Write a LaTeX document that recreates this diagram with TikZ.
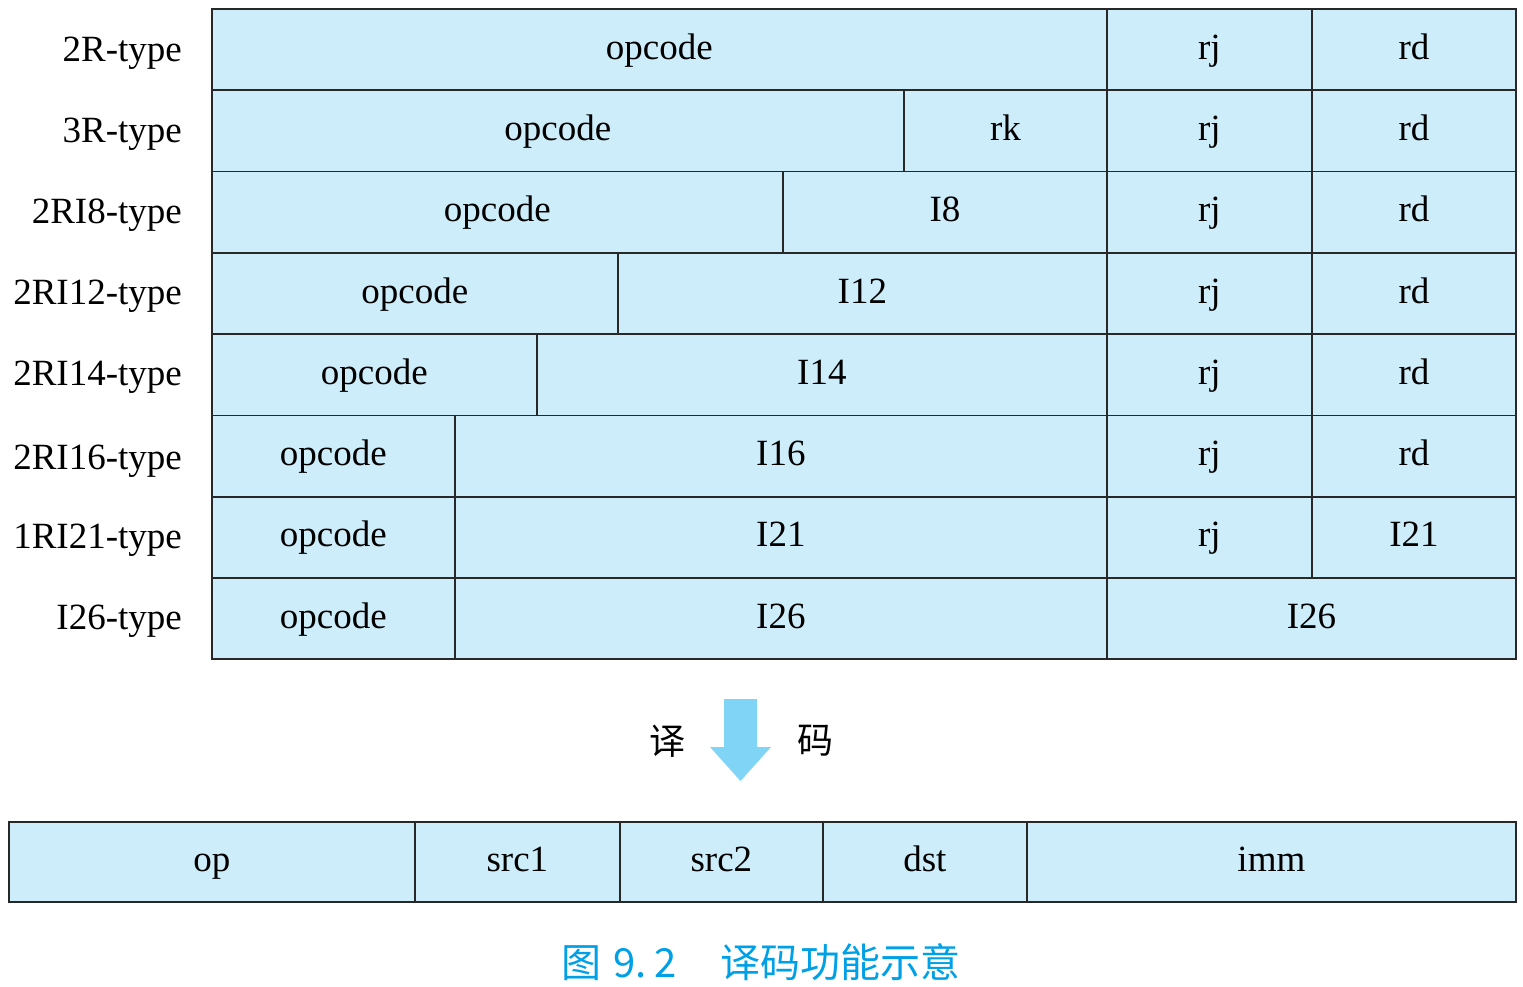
\documentclass[tikz,border=0pt]{standalone}
\usepackage{fontspec}
\setmainfont{Liberation Serif}
\newfontfamily\cjk{Noto Sans CJK SC}
\definecolor{cellc}{RGB}{204,237,249}
\definecolor{linec}{RGB}{40,40,40}
\definecolor{arrc}{RGB}{128,212,246}
\definecolor{capc}{RGB}{0,160,230}
\tikzset{
  cell/.style={draw=linec, fill=cellc, line width=1.8pt, anchor=north west, inner sep=0pt, font=\fontsize{37}{42}\selectfont, text height=26.6pt, text depth=7.4pt},
  lbl/.style={anchor=east, inner sep=0pt, font=\fontsize{37}{42}\selectfont, text height=26.6pt, text depth=7.4pt},
}
\newcommand\fld[6]{\node[cell, minimum width={(#3-#2)*1pt}, minimum height={(#5-#4)*1pt}] (#1) at (#2,#4) {#6};}
\begin{document}
\begin{tikzpicture}[x=1pt,y=-1pt]
\useasboundingbox (0,0) rectangle (1523,986);
% row boundaries
\def\ya{8}\def\yb{89.3}\def\yc{170.6}\def\yd{251.9}\def\ye{333.2}\def\yf{414.5}\def\yg{495.8}\def\yh{577.1}\def\yi{658.4}
% row 1 2R
\fld{a1}{211}{1106}{\ya}{\yb}{opcode}
\fld{a2}{1106}{1311}{\ya}{\yb}{rj}
\fld{a3}{1311}{1515}{\ya}{\yb}{rd}
% row 2 3R
\fld{b1}{211}{903}{\yb}{\yc}{opcode}
\fld{b2}{903}{1106}{\yb}{\yc}{rk}
\fld{b3}{1106}{1311}{\yb}{\yc}{rj}
\fld{b4}{1311}{1515}{\yb}{\yc}{rd}
% row 3 2RI8
\fld{c1}{211}{782}{\yc}{\yd}{opcode}
\fld{c2}{782}{1106}{\yc}{\yd}{I8}
\fld{c3}{1106}{1311}{\yc}{\yd}{rj}
\fld{c4}{1311}{1515}{\yc}{\yd}{rd}
% row 4 2RI12
\fld{d1}{211}{617}{\yd}{\ye}{opcode}
\fld{d2}{617}{1106}{\yd}{\ye}{I12}
\fld{d3}{1106}{1311}{\yd}{\ye}{rj}
\fld{d4}{1311}{1515}{\yd}{\ye}{rd}
% row 5 2RI14
\fld{e1}{211}{536}{\ye}{\yf}{opcode}
\fld{e2}{536}{1106}{\ye}{\yf}{I14}
\fld{e3}{1106}{1311}{\ye}{\yf}{rj}
\fld{e4}{1311}{1515}{\ye}{\yf}{rd}
% row 6 2RI16
\fld{f1}{211}{454}{\yf}{\yg}{opcode}
\fld{f2}{454}{1106}{\yf}{\yg}{I16}
\fld{f3}{1106}{1311}{\yf}{\yg}{rj}
\fld{f4}{1311}{1515}{\yf}{\yg}{rd}
% row 7 1RI21
\fld{g1}{211}{454}{\yg}{\yh}{opcode}
\fld{g2}{454}{1106}{\yg}{\yh}{I21}
\fld{g3}{1106}{1311}{\yg}{\yh}{rj}
\fld{g4}{1311}{1515}{\yg}{\yh}{I21}
% row 8 I26
\fld{h1}{211}{454}{\yh}{\yi}{opcode}
\fld{h2}{454}{1106}{\yh}{\yi}{I26}
\fld{h3}{1106}{1515}{\yh}{\yi}{I26}
% labels
\node[lbl] (la) at (182,52) {2R-type};
\node[lbl] (lb) at (182,133) {3R-type};
\node[lbl] (lc) at (182,214) {2RI8-type};
\node[lbl] (ld) at (182,295) {2RI12-type};
\node[lbl] (le) at (182,376) {2RI14-type};
\node[lbl] (lf) at (182,460) {2RI16-type};
\node[lbl] (lg) at (182,539) {1RI21-type};
\node[lbl] (lh) at (182,620) {I26-type};
% decode arrow
\fill[arrc] (724,699) -- (757,699) -- (757,747) -- (771,747) -- (740.5,781) -- (710,747) -- (724,747) -- cycle;
\node[font=\cjk\fontsize{36}{40}\selectfont] (yi) at (667,741) {译};
\node[font=\cjk\fontsize{36}{40}\selectfont] (ma) at (815,741) {码};
% bottom row
\fld{p1}{8}{414}{821}{901}{op}
\fld{p2}{414}{619}{821}{901}{src1}
\fld{p3}{619}{822}{821}{901}{src2}
\fld{p4}{822}{1026}{821}{901}{dst}
\fld{p5}{1026}{1515}{821}{901}{imm}
% caption
\node[font=\cjk\fontsize{40}{46}\selectfont, text=capc] (cap) at (761,962) {图\hspace{0.3em}9.\hspace{0.2em}2\hspace{1.1em}译码功能示意};
\end{tikzpicture}
\end{document}
